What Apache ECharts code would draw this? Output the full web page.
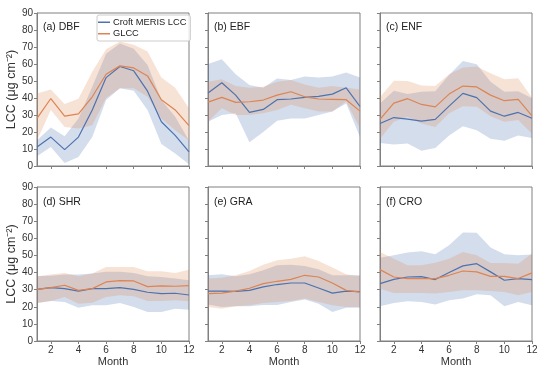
<!DOCTYPE html>
<html><head><meta charset="utf-8">
<script src="https://cdn.jsdelivr.net/npm/echarts@6/dist/echarts.min.js"></script>
<style>html,body{margin:0;padding:0;background:#fff}#c{width:550px;height:371px}</style>
</head><body><div id="c"></div>
<script>
// ---- data ----
const months = ['1','2','3','4','5','6','7','8','9','10','11','12'];
const xTickLabels = ['2','4','6','8','10','12'];
const panelTitles = ['(a) DBF','(b) EBF','(c) ENF','(d) SHR','(e) GRA','(f) CRO'];
const seriesNames = ['Croft MERIS LCC','GLCC'];

// (a) DBF
const dbfCroft   = [11.2,17,9.6,17,33,52,58.5,56,44,26,18,8.3];
const dbfCroftLo = [5.7,11.2,1.8,5.3,17,38.8,45.7,44.3,33,13,7.3,1];
const dbfCroftHi = [15.2,22.6,17.5,28,46.6,66,72,69,59.4,38.8,29,15];
const dbfGlcc    = [28,39.7,29.3,30.7,40.7,54,58.9,57.7,53,39,33,23.8];
const dbfGlccLo  = [15,33,23,22,24,40,45.7,45.7,40.7,28,21,15];
const dbfGlccHi  = [42.7,45,36.4,39.6,55.5,68.7,73.2,71.3,67.3,52,46,33.9];
// (b) EBF
const ebfCroft   = [43,49,41.7,31.5,33.3,39,39.4,40.4,41,42.3,46,35];
const ebfCroftLo = [26,30,31,14,20,26.6,28,28,30,32,36.8,17];
const ebfCroftHi = [60,62.8,54,47.6,46,51.4,50.6,52.6,52,52.6,55,52];
const ebfGlcc    = [37.6,40.4,37.4,37.8,38.8,41.7,43.7,40.7,39.4,39.2,39,32.3];
const ebfGlccLo  = [26,34,30,30,31,33,36,34,32,32,38,22];
const ebfGlccHi  = [49.6,51,47,46,46.6,49.6,50.6,48,46,47,46,45];
// (c) ENF
const enfCroft   = [25,28.5,27.6,26.4,27.4,35.2,42.7,40.2,32.3,29.3,31.5,28.1];
const enfCroftLo = [13.6,12.6,13.2,8.9,10.6,18,23.4,21,16,14.8,18,16.5];
const enfCroftHi = [36.8,44.3,42.3,43.7,44,53.5,61.8,59.8,49.6,43.7,44,39.8];
const enfGlcc    = [27.4,37,39.6,36.2,34.8,42.3,47,46.5,41.7,38.4,39.2,29.5];
const enfGlccLo  = [16,26,29,25,23,31,35.2,34.8,29.3,26,27,19];
const enfGlccHi  = [40.4,50.2,50,47.4,47,54,58,58.5,54.5,51,51.6,40.2];
// (d) SHR
const shrCroft   = [30.2,31.2,30.6,29.2,30.6,30.6,31.2,30.2,28.5,27.7,27.9,26.9];
const shrCroftLo = [22.2,23.4,22.8,19.5,20.9,20.9,22.2,19.9,17,17,18.9,18.3];
const shrCroftHi = [37.8,38.2,38.8,38.8,39.4,40.4,40.4,39.8,37.8,37.4,36.5,35.5];
const shrGlcc    = [30.2,31.2,32.6,29.6,30.6,34.5,35.3,35.1,31.8,32.2,32,32.4];
const shrGlccLo  = [22.2,23.4,25.7,21.8,22.4,25.7,26.7,26.1,23.4,23.4,23.8,23.2];
const shrGlccHi  = [37.8,38.8,39.8,37.8,39.4,43.3,43.3,43.3,40.7,40.7,39.8,41.7];
// (e) GRA
const graCroft   = [29.2,29.2,29,29.6,31.6,33,33.9,33.9,31,28,29.2,28.8];
const graCroftLo = [21.4,19.9,20.3,20.3,21,21,22.8,24.2,21.8,17,19.5,19.5];
const graCroftHi = [38.4,39,37.8,39,41.3,44.2,44.6,43.9,41.9,38.4,38.4,38.4];
const graGlcc    = [27.7,28,29.2,30.8,33.5,34.9,36,38.4,37.4,33.9,29.6,28.6];
const graGlccLo  = [19.9,18.9,20.3,20.9,22.2,22.8,23.4,24.8,22.8,20.9,19.9,19.9];
const graGlccHi  = [36.5,37,38.4,40.9,44.6,47.2,48.1,49.5,46.8,42.9,39,37.8];
// (f) CRO
const croCroft   = [33.5,36,37.4,37.6,35.9,40,43.9,45.2,40.4,35.5,36.5,35.9];
const croCroftLo = [20.3,22.2,23.2,22.8,21.4,23.8,24.8,27.3,26.7,20.3,22.8,20.9];
const croCroftHi = [48.7,50.1,51.7,52.5,50.7,56,63.4,63.2,54.6,50.7,50.1,50.5];
const croGlcc    = [41.7,37.4,36.5,36.5,36.5,38.4,40.9,40.4,37.8,37.8,36.5,39.8];
const croGlccLo  = [30.6,28,28,28,27.7,28.6,29.6,29.6,29.2,28.6,26.7,28.6];
const croGlccHi  = [52,48.1,44.2,44.2,45.8,48.1,52,50.1,45.6,45.6,45.2,51.1];

const panels = [
  [dbfCroft,dbfCroftLo,dbfCroftHi,dbfGlcc,dbfGlccLo,dbfGlccHi],
  [ebfCroft,ebfCroftLo,ebfCroftHi,ebfGlcc,ebfGlccLo,ebfGlccHi],
  [enfCroft,enfCroftLo,enfCroftHi,enfGlcc,enfGlccLo,enfGlccHi],
  [shrCroft,shrCroftLo,shrCroftHi,shrGlcc,shrGlccLo,shrGlccHi],
  [graCroft,graCroftLo,graCroftHi,graGlcc,graGlccLo,graGlccHi],
  [croCroft,croCroftLo,croCroftHi,croGlcc,croGlccLo,croGlccHi]
];

// ---- layout / style ----
const BLUE = '#4c72b0', ORANGE = '#dd8452';
const BLUE_FILL = 'rgba(76,114,176,0.24)', ORANGE_FILL = 'rgba(221,132,82,0.24)';
const FONT = 'Liberation Sans, Arial, sans-serif';
const lefts = [37, 208, 380], tops = [13, 187], heights = [153, 154], W = 152;
const SPINE = '#808080';

const grids = [], xAxes = [], yAxes = [], series = [], titles = [];
const tickEvery2 = (i, v) => xTickLabels.indexOf(String(v)) >= 0;

panels.forEach((p, k) => {
  const r = Math.floor(k / 3), c = k % 3;
  grids.push({left: lefts[c], top: tops[r], width: W, height: heights[r],
    show: true, borderColor: SPINE, borderWidth: 1, backgroundColor: 'transparent', containLabel: false});
  xAxes.push({type: 'category', gridIndex: k, data: months, boundaryGap: false,
    name: r === 1 ? 'Month' : '', nameLocation: 'middle', nameGap: 15,
    nameTextStyle: {fontFamily: FONT, fontSize: 11, color: '#333'},
    axisLine: {show: true, lineStyle: {color: SPINE}},
    axisTick: {show: true, length: 3, lineStyle: {color: SPINE}, interval: tickEvery2, alignWithLabel: true},
    axisLabel: {show: r === 1, fontFamily: FONT, fontSize: 10, color: '#333', margin: 4, interval: tickEvery2},
    splitLine: {show: false}});
  yAxes.push({type: 'value', gridIndex: k, min: 0, max: 90, interval: 10,
    name: c === 0 ? 'LCC (μg cm⁻²)' : '', nameLocation: 'middle', nameGap: 19, nameRotate: 90,
    nameTextStyle: {fontFamily: FONT, fontSize: 12.5, color: '#333'},
    axisLine: {show: true, lineStyle: {color: SPINE}},
    axisTick: {show: true, length: 3, lineStyle: {color: SPINE}},
    axisLabel: {show: c === 0, fontFamily: FONT, fontSize: 10, color: '#333', margin: 4},
    splitLine: {show: false}});
  titles.push({text: panelTitles[k], left: lefts[c] + 6, top: tops[r] + (r ? 10 : 9), padding: 0,
    textStyle: {fontFamily: FONT, fontSize: 10.5, fontWeight: 'normal', color: '#222'}});

  const [cm, clo, chi, gm, glo, ghi] = p;
  const band = (lo, hi, fill, id) => [
    {type: 'line', xAxisIndex: k, yAxisIndex: k, data: lo, stack: id, symbol: 'none',
      lineStyle: {opacity: 0}, silent: true, z: 1},
    {type: 'line', xAxisIndex: k, yAxisIndex: k, data: hi.map((h, i) => +(h - lo[i]).toFixed(2)), stack: id, symbol: 'none',
      lineStyle: {opacity: 0}, areaStyle: {color: fill, opacity: 1}, silent: true, z: 1}
  ];
  series.push(...band(clo, chi, BLUE_FILL, 'cb' + k));
  series.push(...band(glo, ghi, ORANGE_FILL, 'gb' + k));
  series.push({type: 'line', name: seriesNames[0], xAxisIndex: k, yAxisIndex: k, data: cm,
    symbol: 'none', lineStyle: {color: BLUE, width: 1.2}, itemStyle: {color: BLUE}, z: 3});
  series.push({type: 'line', name: seriesNames[1], xAxisIndex: k, yAxisIndex: k, data: gm,
    symbol: 'none', lineStyle: {color: ORANGE, width: 1.2}, itemStyle: {color: ORANGE}, z: 3});
});

const chart = echarts.init(document.getElementById('c'), null, {renderer: 'canvas'});
chart.setOption({
  animation: false,
  backgroundColor: '#fff',
  title: titles,
  legend: {data: seriesNames, orient: 'vertical', left: 97, top: 15,
    itemWidth: 12, itemHeight: 1.5, icon: 'rect', itemGap: 1,
    padding: [2, 4, 2, 1], borderColor: '#cccccc', borderWidth: 1, borderRadius: 2,
    backgroundColor: 'rgba(255,255,255,0.8)',
    textStyle: {fontFamily: FONT, fontSize: 9.3, color: '#222', padding: [0, 0, 0, -2], lineHeight: 10.5}},
  grid: grids, xAxis: xAxes, yAxis: yAxes, series: series
});
</script></body></html>
